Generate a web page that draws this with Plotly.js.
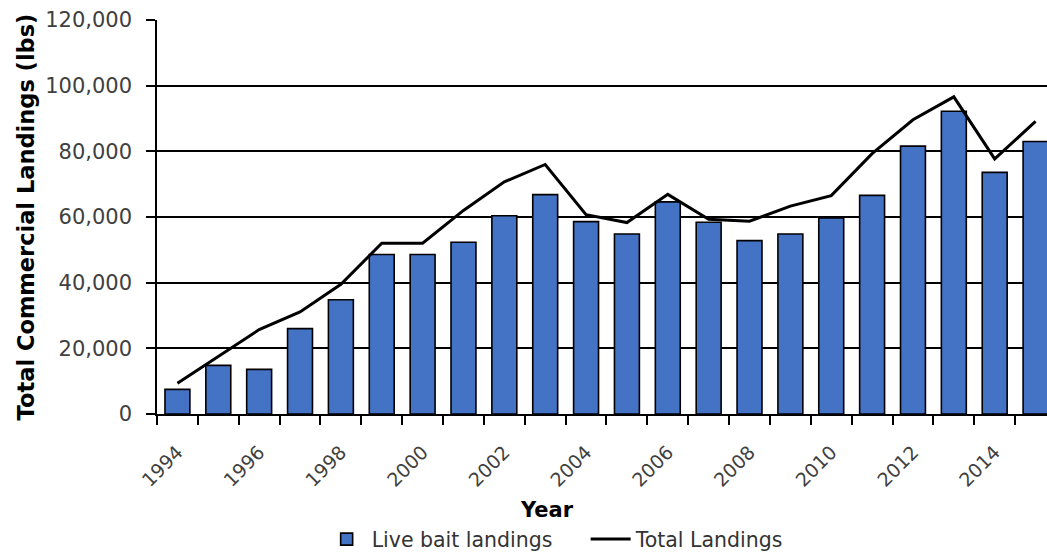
<!DOCTYPE html>
<html>
<head>
<meta charset="utf-8">
<script src="https://cdn.plot.ly/plotly-3.0.1.min.js"></script>
<style>
html,body{margin:0;padding:0;background:#fff;}
#chart{width:1047px;height:554px;}
</style>
</head>
<body>
<div id="chart"></div>
<script>
const years = [1994,1995,1996,1997,1998,1999,2000,2001,2002,2003,2004,2005,2006,2007,2008,2009,2010,2011,2012,2013,2014,2015];
const liveBait = [7500,14800,13600,26000,34800,48600,48600,52300,60400,66800,58600,54800,64600,58400,52800,54800,59700,66600,81600,92200,73600,83000];
const totalLandings = [9400,17500,25700,31100,39500,52000,52000,62000,70700,76000,60700,58300,66900,59300,58700,63300,66500,79300,89600,96600,77700,89100];
const seriesNames = ["Live bait landings","Total Landings"];
const xTitle = "Year";
const yTitle = "Total Commercial Landings (lbs)";

const FONT = "DejaVu Sans, Verdana, sans-serif";

const traces = [
  {
    type: "bar",
    name: seriesNames[0],
    x: years,
    y: liveBait,
    width: 0.61,
    marker: {color: "#4472C4", line: {color: "#000000", width: 1.6}},
    hoverinfo: "x+y"
  },
  {
    type: "scatter",
    mode: "lines",
    name: seriesNames[1],
    x: years,
    y: totalLandings,
    line: {color: "#000000", width: 3},
    hoverinfo: "x+y"
  }
];

const layout = {
  width: 1047,
  height: 554,
  margin: {l: 157, r: 0, t: 20, b: 140, pad: 0, autoexpand: false},
  paper_bgcolor: "#ffffff",
  plot_bgcolor: "#ffffff",
  font: {family: FONT, size: 20, color: "#404040"},
  showlegend: true,
  legend: {
    orientation: "h",
    x: 0.185, xanchor: "left",
    y: -0.318, yanchor: "middle",
    font: {family: FONT, size: 20.5, color: "#333333"},
    itemwidth: 40,
    entrywidth: 209,
    tracegroupgap: 0,
    traceorder: "normal",
    bgcolor: "rgba(0,0,0,0)"
  },
  xaxis: {
    type: "linear",
    range: [1993.5, 2015.28],
    tick0: 1994,
    dtick: 2,
    ticks: "",
    tickangle: -45,
    ticklabelstandoff: 18,
    tickfont: {family: FONT, size: 19, color: "#404040"},
    showgrid: false,
    zeroline: false,
    showline: true,
    linecolor: "#000000",
    linewidth: 1.5,
    minor: {tick0: 1993.5, dtick: 1, ticks: "outside", ticklen: 9, tickwidth: 1.5, tickcolor: "#000000", showgrid: false},
    automargin: false,
    fixedrange: true
  },
  yaxis: {
    range: [0, 120000],
    dtick: 20000,
    tickformat: ",d",
    ticks: "outside",
    ticklen: 9,
    tickwidth: 1.5,
    tickcolor: "#000000",
    ticklabelstandoff: 10,
    tickfont: {family: FONT, size: 21, color: "#404040"},
    showgrid: true,
    gridcolor: "#000000",
    gridwidth: 1.5,
    zeroline: false,
    showline: true,
    linecolor: "#000000",
    linewidth: 1.5,
    title: {text: yTitle, font: {family: FONT, size: 22.5, color: "#000000", weight: "bold"}, standoff: 4},
    automargin: false,
    fixedrange: true
  },
  annotations: [
    {
      text: "<b>" + xTitle + "</b>",
      xref: "paper", yref: "paper",
      x: 0.438, y: -0.2437,
      xanchor: "center", yanchor: "middle",
      showarrow: false,
      font: {family: FONT, size: 21, color: "#000000"}
    }
  ]
};

Plotly.newPlot("chart", traces, layout, {displayModeBar: false, responsive: false});
</script>
</body>
</html>
